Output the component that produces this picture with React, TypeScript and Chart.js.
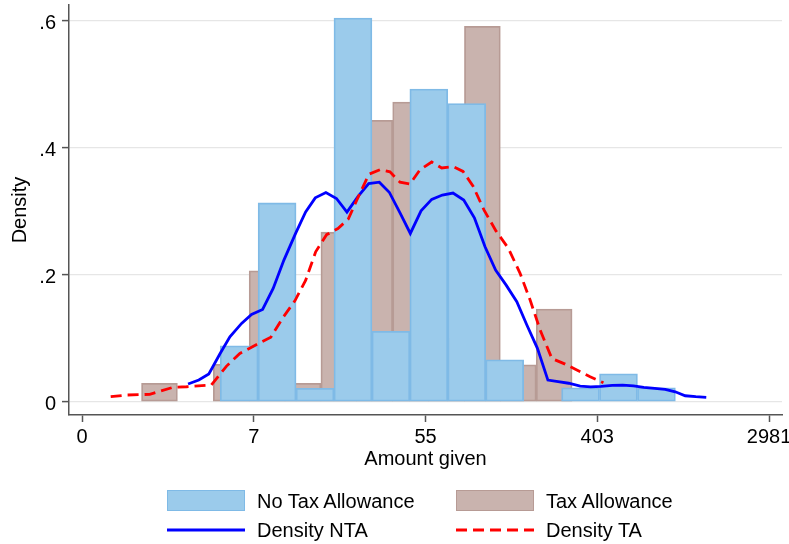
import React, { useEffect, useRef } from "react";
import { Chart, registerables } from "chart.js";

Chart.register(...registerables);

// x axis is ln(1 + amount); ticks labelled with the amount
const xTickValues = [0, 2, 4, 6, 8];
const xTickLabels = ["0", "7", "55", "403", "2981"];
const yTickValues = [0, 0.2, 0.4, 0.6];
const yTickLabels = ["0", ".2", ".4", ".6"];

// Histogram: No Tax Allowance (bins in ln(1+amount))
const ntaBinStart = 1.609;
const ntaBinWidth = 0.4417;
const ntaHeights = [0.088, 0.313, 0.021, 0.604, 0.111, 0.4925, 0.4695, 0.066, 0, 0.022, 0.044, 0.022];

// Histogram: Tax Allowance
const taBinStart = 0.693;
const taBinWidth = 0.4178;
const taHeights = [0.029, 0, 0.059, 0.206, 0.029, 0.267, 0.443, 0.472, 0.1, 0.591, 0.058, 0.146];

// Kernel density NTA
const ntaDensX = [1.235, 1.36, 1.477, 1.605, 1.722, 1.858, 1.974, 2.103, 2.226, 2.351, 2.487, 2.604, 2.716, 2.84, 2.963, 3.085, 3.217, 3.338, 3.462, 3.578, 3.703, 3.823, 3.948, 4.072, 4.196, 4.32, 4.445, 4.569, 4.693, 4.816, 4.939, 5.063, 5.18, 5.303, 5.425, 5.544, 5.667, 5.801, 5.923, 6.045, 6.174, 6.296, 6.422, 6.541, 6.669, 6.791, 6.908, 7.024, 7.147, 7.269];
const ntaDensY = [0.0279, 0.0341, 0.0436, 0.0751, 0.1023, 0.1233, 0.1375, 0.1453, 0.1784, 0.223, 0.265, 0.299, 0.321, 0.3295, 0.32, 0.2986, 0.3237, 0.3436, 0.3457, 0.3299, 0.2974, 0.265, 0.3006, 0.3186, 0.3254, 0.3286, 0.3176, 0.2897, 0.2441, 0.2072, 0.1836, 0.1574, 0.1208, 0.0841, 0.0341, 0.0315, 0.0291, 0.0246, 0.0235, 0.0243, 0.0258, 0.0261, 0.025, 0.0225, 0.0209, 0.0194, 0.0156, 0.0094, 0.0079, 0.0069];

// Kernel density TA
const taDensX = [0.334, 0.517, 0.789, 1.061, 1.217, 1.506, 1.683, 1.838, 2.048, 2.199, 2.333, 2.479, 2.605, 2.721, 2.848, 2.98, 3.1, 3.217, 3.341, 3.469, 3.586, 3.703, 3.819, 3.936, 4.072, 4.189, 4.324, 4.437, 4.554, 4.682, 4.822, 4.965, 5.101, 5.218, 5.335, 5.471, 5.626, 5.762, 5.917, 6.072];
const taDensY = [0.0079, 0.0105, 0.0116, 0.0227, 0.0236, 0.0263, 0.0561, 0.076, 0.091, 0.1017, 0.1312, 0.1588, 0.1915, 0.2361, 0.2631, 0.2726, 0.2875, 0.3226, 0.3583, 0.3654, 0.3619, 0.3457, 0.3429, 0.3654, 0.3775, 0.3681, 0.3702, 0.3627, 0.3394, 0.3016, 0.2686, 0.2415, 0.2022, 0.1601, 0.1129, 0.0681, 0.0592, 0.0498, 0.0393, 0.0299];

const seriesNames = ["No Tax Allowance", "Tax Allowance", "Density NTA", "Density TA"];

const BLUE_FILL = "#9BCBEB";
const BLUE_EDGE = "#7FBAE6";
const BROWN_FILL = "#C9B3AE";
const BROWN_EDGE = "#B79B95";
const AXIS = "#555555";
const FONT = "'Liberation Sans', Arial, Helvetica, sans-serif";

const X_MIN = -0.1515;
const X_MAX = 8.151;
const Y_MIN = -0.0209;
const Y_MAX = 0.6247;

function binPoints(start: number, width: number, heights: number[]) {
  return heights.map((h, i) => ({ x: start + (i + 0.5) * width, y: h }));
}

export default function App() {
  const canvasRef = useRef<HTMLCanvasElement | null>(null);

  useEffect(() => {
    const canvas = canvasRef.current;
    if (!canvas) return;
    const fixTicks = (vals: number[]) => (scale: any) => {
      scale.ticks = vals.map((v) => ({ value: v }));
    };
    const chart = new Chart(canvas, {
      type: "bar",
      data: {
        datasets: [
          {
            type: "line",
            label: seriesNames[3],
            data: taDensX.map((x, i) => ({ x, y: taDensY[i] })),
            borderColor: "#FF0000",
            borderWidth: 2.8,
            borderDash: [11, 6],
            pointRadius: 0,
            tension: 0,
            fill: false,
            xAxisID: "x",
            order: 0,
          } as any,
          {
            type: "line",
            label: seriesNames[2],
            data: ntaDensX.map((x, i) => ({ x, y: ntaDensY[i] })),
            borderColor: "#0000FF",
            borderWidth: 2.8,
            pointRadius: 0,
            tension: 0,
            fill: false,
            xAxisID: "x",
            order: 1,
          } as any,
          {
            type: "bar",
            label: seriesNames[0],
            data: binPoints(ntaBinStart, ntaBinWidth, ntaHeights),
            backgroundColor: BLUE_FILL,
            borderColor: BLUE_EDGE,
            borderWidth: 1.8,
            borderSkipped: false,
            barPercentage: 1,
            categoryPercentage: 1,
            grouped: false,
            xAxisID: "x",
            order: 2,
          } as any,
          {
            type: "bar",
            label: seriesNames[1],
            data: binPoints(taBinStart, taBinWidth, taHeights),
            backgroundColor: BROWN_FILL,
            borderColor: BROWN_EDGE,
            borderWidth: 1.8,
            borderSkipped: false,
            barPercentage: 1,
            categoryPercentage: 1,
            grouped: false,
            xAxisID: "xTA",
            order: 3,
          } as any,
        ],
      },
      options: {
        animation: false,
        responsive: false,
        maintainAspectRatio: false,
        devicePixelRatio: 1,
        layout: { padding: { left: 0, top: 5, right: 7, bottom: 0 } },
        plugins: {
          legend: { display: false },
          tooltip: { enabled: false },
        },
        scales: {
          x: {
            type: "linear",
            position: "bottom",
            min: X_MIN,
            max: X_MAX,
            offset: false,
            afterBuildTicks: fixTicks(xTickValues),
            afterFit: (s: any) => {
              s.height = 129;
              s.paddingLeft = 0;
              s.paddingRight = 0;
            },
            ticks: {
              autoSkip: false,
              maxRotation: 0,
              padding: 3,
              color: "#000",
              font: { family: FONT, size: 20 },
              callback: (_v: any, i: number) => xTickLabels[i],
            },
            grid: {
              offset: false,
              drawOnChartArea: false,
              drawTicks: true,
              tickLength: 7,
              tickColor: AXIS,
              tickWidth: 1.5,
            },
            border: { display: true, color: AXIS, width: 1.5 },
            title: {
              display: true,
              text: "Amount given",
              color: "#000",
              font: { family: FONT, size: 20 },
              padding: { top: 0, bottom: 73 },
            },
          },
          xTA: {
            type: "linear",
            display: false,
            min: X_MIN,
            max: X_MAX,
            offset: false,
            grid: { offset: false },
            afterBuildTicks: fixTicks(xTickValues),
          },
          y: {
            type: "linear",
            min: Y_MIN,
            max: Y_MAX,
            afterBuildTicks: fixTicks(yTickValues),
            afterFit: (s: any) => {
              s.width = 69;
              s.paddingTop = 0;
              s.paddingBottom = 0;
            },
            ticks: {
              autoSkip: false,
              padding: 6,
              labelOffset: 3,
              color: "#000",
              font: { family: FONT, size: 20 },
              callback: (_v: any, i: number) => yTickLabels[i],
            },
            grid: {
              color: "#E6E6E6",
              lineWidth: 1.2,
              drawTicks: true,
              tickLength: 7,
              tickColor: AXIS,
              tickWidth: 1.5,
            },
            border: { display: true, color: AXIS, width: 1.5 },
            title: {
              display: true,
              text: "Density",
              color: "#000",
              font: { family: FONT, size: 20 },
              padding: { top: 8, bottom: 0 },
            },
          },
        },
      } as any,
    });
    return () => chart.destroy();
  }, []);

  const textStyle: React.CSSProperties = {
    position: "absolute",
    fontFamily: FONT,
    fontSize: 20,
    color: "#000",
    lineHeight: "24px",
    whiteSpace: "nowrap",
  };

  return (
    <div style={{ position: "absolute", left: 0, top: 0, width: 789, height: 544, background: "#fff", overflow: "hidden" }}>
      <canvas ref={canvasRef} width={789} height={544} style={{ position: "absolute", left: 0, top: 0 }} />
      {/* legend */}
      <div style={{ position: "absolute", left: 167, top: 490, width: 78, height: 21, boxSizing: "border-box", background: BLUE_FILL, border: `1.6px solid ${BLUE_EDGE}` }} />
      <div style={{ ...textStyle, left: 257, top: 489 }}>{seriesNames[0]}</div>
      <div style={{ position: "absolute", left: 456, top: 490, width: 78, height: 21, boxSizing: "border-box", background: BROWN_FILL, border: `1.6px solid ${BROWN_EDGE}` }} />
      <div style={{ ...textStyle, left: 546, top: 489 }}>{seriesNames[1]}</div>
      <svg style={{ position: "absolute", left: 167, top: 524 }} width={78} height={12}>
        <line x1={0} y1={6} x2={78} y2={6} stroke="#0000FF" strokeWidth={2.8} />
      </svg>
      <div style={{ ...textStyle, left: 257, top: 518 }}>{seriesNames[2]}</div>
      <svg style={{ position: "absolute", left: 456, top: 524 }} width={78} height={12}>
        <line x1={0} y1={6} x2={78} y2={6} stroke="#FF0000" strokeWidth={2.8} strokeDasharray="11 6" />
      </svg>
      <div style={{ ...textStyle, left: 546, top: 518 }}>{seriesNames[3]}</div>
    </div>
  );
}
